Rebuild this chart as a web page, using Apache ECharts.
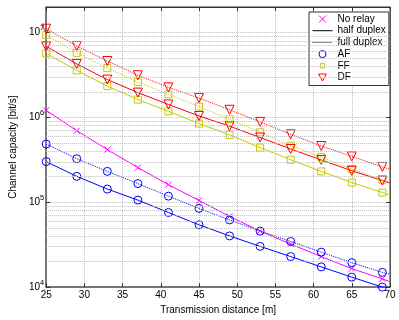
<!DOCTYPE html>
<html>
<head>
<meta charset="utf-8">
<script src="https://cdn.jsdelivr.net/npm/echarts@6/dist/echarts.min.js"></script>
<style>
  html, body { margin: 0; padding: 0; background: #fff; }
  #chart { width: 399px; height: 320px; }
</style>
</head>
<body>
<div id="chart"></div>
<script>
// transmission distance [m]; markers sit on the first 12 points, the last one only carries the line
const distance = [25, 29, 33, 37, 41, 45, 49, 53, 57, 61, 65, 69, 70];
const noRelay = [1.21e6, 6.97e5, 4.18e5, 2.56e5, 1.61e5, 1.05e5, 6.81e4, 4.57e4, 3.21e4, 2.29e4, 1.65e4, 1.25e4, 1.16e4];
const afHalf  = [3.01e5, 2.02e5, 1.43e5, 1.06e5, 7.57e4, 5.42e4, 4.01e4, 3.02e4, 2.29e4, 1.73e4, 1.31e4, 1.0e4, 9.3e3];
const afFull  = [4.85e5, 3.26e5, 2.31e5, 1.66e5, 1.18e5, 8.46e4, 6.19e4, 4.57e4, 3.45e4, 2.58e4, 1.94e4, 1.49e4, 1.42e4];
const ffHalf  = [5.67e6, 3.58e6, 2.34e6, 1.62e6, 1.18e6, 8.46e5, 6.22e5, 4.41e5, 3.17e5, 2.31e5, 1.71e5, 1.30e5, 1.21e5];
const ffFull  = [9.38e6, 5.77e6, 3.81e6, 2.61e6, 1.87e6, 1.34e6, 9.51e5, 6.67e5, 4.65e5, 3.41e5, 2.46e5, 1.84e5, 1.71e5];
const dfHalf  = [6.88e6, 4.27e6, 2.79e6, 1.96e6, 1.42e6, 1.04e6, 7.89e5, 5.79e5, 4.25e5, 3.15e5, 2.35e5, 1.80e5, 1.69e5];
const dfFull  = [1.11e7, 6.95e6, 4.62e6, 3.14e6, 2.26e6, 1.69e6, 1.23e6, 8.85e5, 6.32e5, 4.60e5, 3.47e5, 2.61e5, 2.45e5];
const xTicks = [25, 30, 35, 40, 45, 50, 55, 60, 65, 70];
const yMin = 1e4, yMax = 2e7;

const FONT = '"Liberation Sans", Arial, sans-serif';
const MAGENTA = '#ff00ff', BLUE = '#0000ff', OLIVE = '#c8c800', RED = '#ff0000';
const CROSS = 'path://M0,0L10,10M10,0L0,10';
const TRI = 'path://M0,0L10,0L5,9Z';
const SQUARE = 'path://M0,0L10,0L10,10L0,10Z';
// legend icons: padded so the box is itemWidth x itemHeight
const LEG_LINE = 'path://M0,0M0,3.5L20,3.5M20,7';
const LEG_SQUARE = 'path://M0,0M7.5,1.5L12.5,1.5L12.5,6.5L7.5,6.5ZM20,8';

// minor log grid lines 2..9 x 10^n
let minorGrid = [];
for (let e = 4; e < 8; e++) {
  for (let k = 2; k <= 9; k++) {
    let v = k * Math.pow(10, e);
    if (v < yMax) minorGrid.push({ yAxis: v });
  }
}

function mk(name, arr, color, symbol, size, dotted, extra) {
  let s = {
    name: name,
    type: 'line',
    symbol: symbol,
    symbolSize: size,
    showAllSymbol: true,
    lineStyle: { color: color, width: 1, type: dotted ? 'dotted' : 'solid' },
    itemStyle: { color: 'rgba(0,0,0,0)', borderColor: color, borderWidth: 1 },
    emphasis: { disabled: true },
    data: distance.map(function (d, i) {
      return { value: [d, arr[i]], symbol: i < 12 ? symbol : 'none' };
    })
  };
  return Object.assign(s, extra || {});
}

function hollow(c, extra) {
  return Object.assign({ color: 'rgba(0,0,0,0)', borderColor: c, borderWidth: 1 }, extra || {});
}

let chart = echarts.init(document.getElementById('chart'));
chart.setOption({
  animation: false,
  backgroundColor: '#fff',
  textStyle: { fontFamily: FONT },
  grid: { left: 33, right: 9, top: 7, bottom: 26, show: true, borderColor: '#333', borderWidth: 1 },
  legend: {
    orient: 'vertical',
    left: 309,
    top: 12,
    padding: [2, 3, 3, 3],
    itemWidth: 20,
    itemHeight: 7,
    itemGap: 1.7,
    backgroundColor: '#fff',
    borderColor: '#333',
    borderWidth: 1,
    borderRadius: 0,
    selectedMode: false,
    lineStyle: { width: 1 },
    textStyle: { fontSize: 10, color: '#000', fontFamily: FONT },
    data: [
      { name: 'No relay', icon: CROSS, itemStyle: hollow(MAGENTA) },
      { name: 'half duplex', icon: LEG_LINE, itemStyle: hollow('#000') },
      { name: 'full duplex', icon: LEG_LINE, itemStyle: hollow('#000', { borderType: 'dotted' }) },
      { name: 'AF', icon: 'circle', itemStyle: hollow(BLUE) },
      { name: 'FF', icon: LEG_SQUARE, itemStyle: hollow(OLIVE) },
      { name: 'DF', icon: TRI, itemStyle: hollow(RED) }
    ]
  },
  xAxis: [{
    type: 'value',
    min: 25, max: 70, interval: 5,
    name: 'Transmission distance [m]',
    nameLocation: 'middle',
    nameGap: 12,
    nameTextStyle: { fontSize: 10, color: '#000' },
    axisLine: { lineStyle: { color: '#666', width: 1.5 } },
    axisTick: { inside: true, length: 4, lineStyle: { color: '#333' } },
    axisLabel: {
      fontSize: 10, color: '#000', margin: 3,
      formatter: function (v) { return xTicks.indexOf(v) >= 0 ? String(v) : ''; }
    },
    splitLine: { show: true, lineStyle: { type: 'dotted', color: '#bdbdbd' } }
  }, {
    type: 'value',
    position: 'top',
    min: 25, max: 70, interval: 5,
    axisLine: { lineStyle: { color: '#333' } },
    axisTick: { inside: true, length: 4, lineStyle: { color: '#333' } },
    axisLabel: { show: false },
    splitLine: { show: false }
  }],
  yAxis: [{
    type: 'log',
    logBase: 10,
    min: yMin, max: yMax,
    name: 'Channel capacity [bit/s]',
    nameLocation: 'middle',
    nameGap: 24,
    nameTextStyle: { fontSize: 10, color: '#000' },
    axisLine: { show: true, lineStyle: { color: '#666', width: 1.5 } },
    axisTick: { inside: true, length: 4, lineStyle: { color: '#333' } },
    axisLabel: {
      margin: 2,
      showMaxLabel: false,
      formatter: function (v) {
        let e = Math.round(Math.log10(v));
        return '{b|10}{e|' + e + '}';
      },
      rich: {
        b: { fontSize: 10, color: '#000', fontFamily: FONT },
        e: { fontSize: 7.5, color: '#000', fontFamily: FONT, lineHeight: 8, padding: [0, 0, 9, 0] }
      }
    },
    splitLine: { show: true, lineStyle: { type: 'dotted', color: '#bdbdbd' } }
  }, {
    type: 'log',
    logBase: 10,
    min: yMin, max: yMax,
    position: 'right',
    axisLine: { show: true, lineStyle: { color: '#555' } },
    axisTick: { inside: true, length: 4, lineStyle: { color: '#333' } },
    axisLabel: { show: false },
    splitLine: { show: false }
  }],
  series: [
    mk('No relay', noRelay, MAGENTA, CROSS, 6, false, {
      markLine: {
        silent: true,
        symbol: ['none', 'none'],
        label: { show: false },
        lineStyle: { type: 'dotted', color: '#bdbdbd', width: 1 },
        emphasis: { disabled: true },
        data: minorGrid
      }
    }),
    mk('AF', afHalf, BLUE, 'circle', 8, false),
    mk('AF full', afFull, BLUE, 'circle', 8, true),
    mk('FF', ffHalf, OLIVE, SQUARE, 7, false),
    mk('FF full', ffFull, OLIVE, SQUARE, 7, true),
    mk('DF', dfHalf, RED, TRI, 9, false),
    mk('DF full', dfFull, RED, TRI, 9, true),
    { name: 'half duplex', type: 'line', symbol: 'none', data: [], lineStyle: { color: '#000', width: 1 }, itemStyle: { color: '#000' } },
    { name: 'full duplex', type: 'line', symbol: 'none', data: [], lineStyle: { color: '#000', width: 1, type: 'dotted' }, itemStyle: { color: '#000' } }
  ]
});
</script>
</body>
</html>
